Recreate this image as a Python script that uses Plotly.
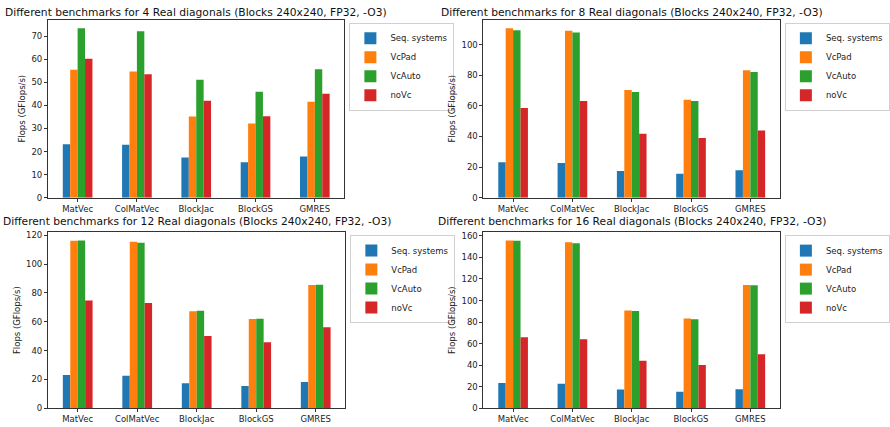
import plotly.graph_objects as go

# benchmark names on the x axis
benchmarks = ['MatVec', 'ColMatVec', 'BlockJac', 'BlockGS', 'GMRES']
variants = ['Seq. systems', 'VcPad', 'VcAuto', 'noVc']
colors = ['#1f77b4', '#ff7f0e', '#2ca02c', '#d62728']

# GFlops/s, one list per variant
diag4_seq = [23.2, 22.9, 17.4, 15.4, 17.8]
diag4_pad = [55.4, 54.7, 35.2, 32.1, 41.6]
diag4_auto = [73.4, 72.1, 51.1, 45.9, 55.6]
diag4_novc = [60.2, 53.5, 42.0, 35.3, 45.0]

diag8_seq = [23.2, 22.6, 17.5, 15.6, 17.9]
diag8_pad = [110.7, 109.0, 70.4, 64.0, 83.2]
diag8_auto = [109.4, 107.9, 69.1, 63.1, 82.1]
diag8_novc = [58.6, 63.1, 41.8, 39.0, 43.9]

diag12_seq = [23.1, 22.5, 17.3, 15.5, 18.2]
diag12_pad = [116.1, 115.4, 67.3, 61.9, 85.5]
diag12_auto = [116.3, 114.7, 67.6, 62.1, 85.7]
diag12_novc = [74.8, 73.0, 50.1, 45.8, 56.2]

diag16_seq = [23.4, 22.8, 17.4, 15.3, 17.7]
diag16_pad = [155.7, 154.2, 90.8, 83.2, 114.4]
diag16_auto = [155.4, 153.3, 90.2, 82.6, 114.1]
diag16_novc = [65.9, 64.1, 44.0, 40.1, 50.1]

panels = [
    (4, [diag4_seq, diag4_pad, diag4_auto, diag4_novc], 10),
    (8, [diag8_seq, diag8_pad, diag8_auto, diag8_novc], 20),
    (12, [diag12_seq, diag12_pad, diag12_auto, diag12_novc], 20),
    (16, [diag16_seq, diag16_pad, diag16_auto, diag16_novc], 20),
]

W, H = 890, 427
FONT = 'DejaVu Sans'

# axes boxes in pixels: (left, right, top, bottom, title centre y)
boxes = [
    (49, 352, 18, 199, 11),
    (494, 797, 18, 199, 11),
    (49, 353, 234, 413, 223),
    (494, 797, 234, 413, 223),
]

fig = go.Figure()
layout = {}

for i, (ndiag, series, dtick) in enumerate(panels):
    n = '' if i == 0 else str(i + 1)
    legname = 'legend' + n
    left, right, top, bottom, ty = boxes[i]
    for name, vals, c in zip(variants, series, colors):
        fig.add_trace(go.Bar(
            x=benchmarks, y=vals, name=name, marker_color=c,
            marker_line_width=0,
            xaxis='x' + n, yaxis='y' + n, legend=legname,
        ))
    ymax = max(max(s) for s in series) * 1.05
    axis_line = dict(showline=True, linecolor='#333', linewidth=1, mirror=True,
                     ticks='outside', ticklen=3, tickcolor='#333',
                     tickfont=dict(family=FONT, size=8.5, color='#222'),
                     showgrid=False, zeroline=False)
    layout['xaxis' + n] = dict(domain=[left / W, right / W], anchor='y' + n,
                               range=[-0.5, 4.5], **axis_line)
    layout['yaxis' + n] = dict(domain=[1 - bottom / H, 1 - top / H], anchor='x' + n,
                               range=[0, ymax], dtick=dtick,
                               title=dict(text='Flops (GFlops/s)', standoff=4,
                                          font=dict(family=FONT, size=8.5, color='#222')),
                               **axis_line)
    layout[legname] = dict(x=(right + 5) / W, y=1 - (top + 3) / H,
                           xanchor='left', yanchor='top',
                           bgcolor='white', bordercolor='#d0d0d0', borderwidth=1,
                           font=dict(family=FONT, size=8.5, color='#222'),
                           tracegroupgap=0, itemwidth=30)
    fig.add_annotation(
        text=f'Different benchmarks for {ndiag} Real diagonals (Blocks 240x240, FP32, -O3)',
        x=(left + right) / 2 / W, y=1 - ty / H, xref='paper', yref='paper',
        xanchor='center', yanchor='middle', showarrow=False,
        font=dict(family=FONT, size=10.7, color='#111'),
    )

fig.update_layout(
    width=W, height=H,
    margin=dict(l=0, r=0, t=0, b=0),
    paper_bgcolor='white', plot_bgcolor='white',
    barmode='group', bargap=0.5, bargroupgap=0,
    showlegend=True,
    **layout,
)

# drop the browser's default body margin so the figure sits at the window corner
fig.write_html('out.html', config={'displayModeBar': False},
               post_script="document.body.style.margin='0';")
